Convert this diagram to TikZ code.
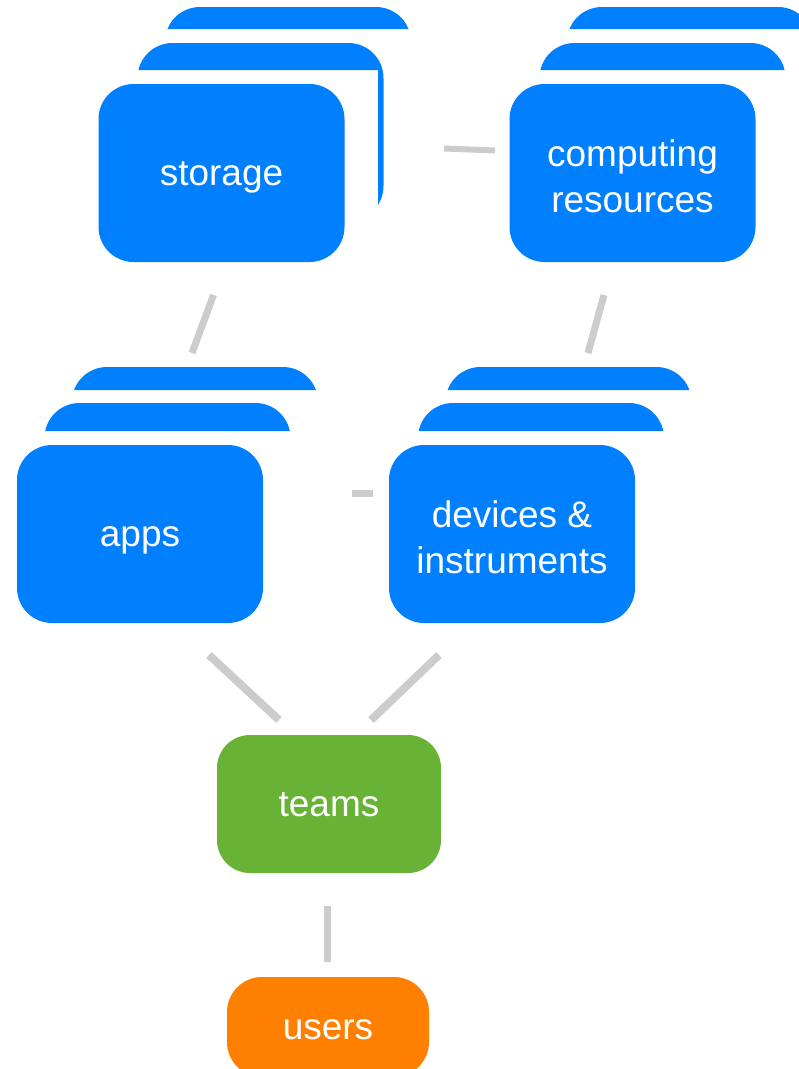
\documentclass[tikz,border=0pt]{standalone}
\usepackage{fontspec}
\setmainfont{Liberation Sans}
\usepackage{tikz}
\definecolor{cardblue}{HTML}{0080FF}
\definecolor{teamgreen}{HTML}{68B236}
\definecolor{userorange}{HTML}{FF8000}
\definecolor{linkgray}{HTML}{CCCCCC}
\tikzstyle{card}=[fill=cardblue, text=white, inner sep=0pt, rounded corners=35pt, minimum width=246pt, minimum height=178pt, align=center, font=\fontsize{37}{46}\selectfont]
\tikzstyle{scard}=[card, text height=25pt, text depth=0pt]
\tikzstyle{tcard}=[scard, fill=teamgreen, rounded corners=33pt, minimum width=224pt, minimum height=138pt]
\tikzstyle{ucard}=[scard, fill=userorange, minimum width=202pt, minimum height=100pt]
\tikzstyle{link}=[draw=linkgray, line width=7pt]
\newcommand{\toprule}{\rule{0pt}{33pt}}

\begin{document}
\begin{tikzpicture}[x=1pt, y=-1pt]
    \useasboundingbox (0,0) rectangle (799,1069);
    \begin{scope}
        \clip (0,0) rectangle (799,29) (0,340) rectangle (799,390);
        \node[card] (storage3) at (288,96) {};
        \node[card] (computing3) at (690,96) {};
        \node[card] (apps3) at (195,456) {};
        \node[card] (devices3) at (568.5,456) {};
    \end{scope}
    \begin{scope}
        \clip (0,0) rectangle (799,70) (378,70) rectangle (400,262) (0,340) rectangle (799,431);
        \node[card] (storage2) at (260.5,132) {};
        \node[card] (computing2) at (662.5,132) {};
        \node[card] (apps2) at (167.5,492) {};
        \node[card] (devices2) at (541,492) {};
    \end{scope}
    \node[scard] (storage) at (221.5,173) {storage};
    \node[card] (computing) at (632.5,173) {\toprule computing\\resources};
    \node[scard] (apps) at (140,534) {apps};
    \node[card] (devices) at (512,534) {\toprule devices \&\\instruments};
    \node[tcard] (teams) at (329,804) {teams};
    \node[ucard] (users) at (328,1027) {users};
    \coordinate (sc1) at (444,148.5);
    \coordinate (sc2) at (495,150.5);
    \coordinate (sa1) at (213.5,295);
    \coordinate (sa2) at (192,353);
    \coordinate (cd1) at (604,295);
    \coordinate (cd2) at (588,353);
    \coordinate (ad1) at (352,493);
    \coordinate (ad2) at (373,493);
    \coordinate (at1) at (209,655);
    \coordinate (at2) at (279,720);
    \coordinate (dt1) at (439,655);
    \coordinate (dt2) at (371,720);
    \coordinate (tu1) at (327.5,906);
    \coordinate (tu2) at (327.5,962);
    \draw[link, line width=6pt] (sc1) -- (sc2);
    \draw[link] (sa1) -- (sa2);
    \draw[link] (cd1) -- (cd2);
    \draw[link] (ad1) -- (ad2);
    \draw[link, line width=8pt] (at1) -- (at2);
    \draw[link, line width=8pt] (dt1) -- (dt2);
    \draw[link] (tu1) -- (tu2);
\end{tikzpicture}
\end{document}
